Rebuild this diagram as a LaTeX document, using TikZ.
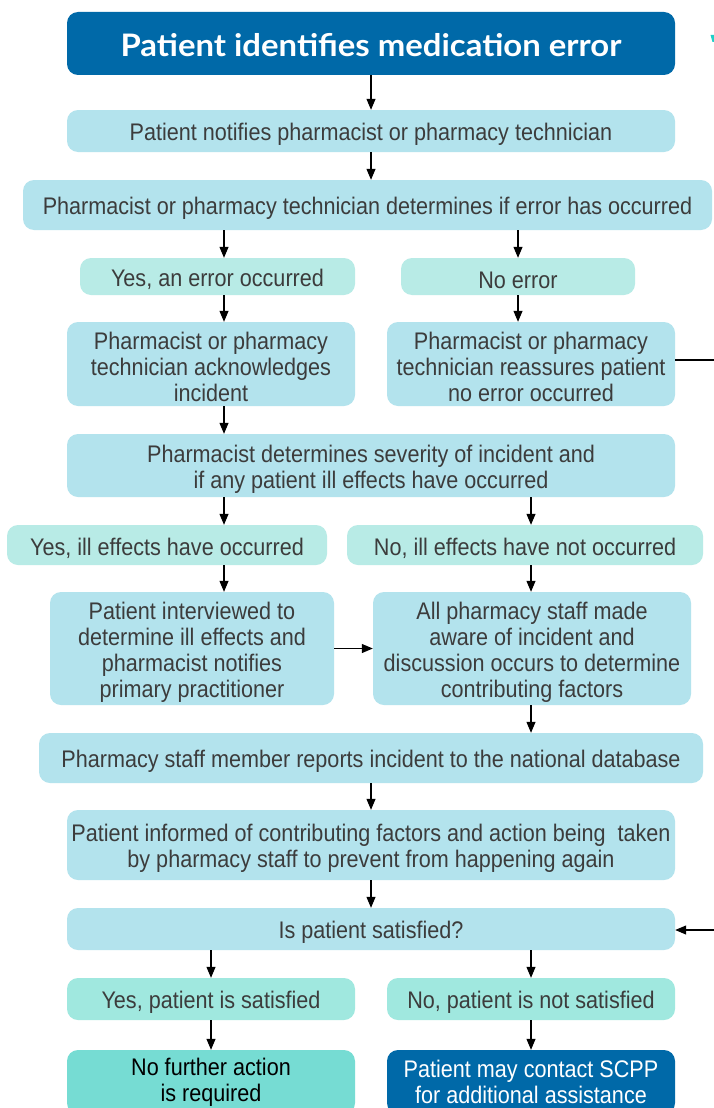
\documentclass[tikz,border=0pt]{standalone}
\usepackage{fontspec}
\setmainfont{Liberation Sans}[FakeStretch=0.9]
\newfontfamily\titlefont{Lato}[FakeStretch=1.06]
\usetikzlibrary{arrows.meta}
\definecolor{lblue}{HTML}{B3E3ED}
\definecolor{mint}{HTML}{B8EBE6}
\definecolor{mintb}{HTML}{A0E8DF}
\definecolor{teal}{HTML}{76DCD3}
\definecolor{dblue}{HTML}{0069A8}
\definecolor{txt}{HTML}{3C3C3C}
\definecolor{tealmark}{HTML}{1FCFC8}
\newcommand\firstline{\rule{0pt}{24pt}}
\tikzset{
  box/.style={rounded corners=11pt, fill=lblue, text=txt, align=center, inner sep=2pt,
    font=\fontsize{24}{26}\selectfont, execute at begin node={\rule{0pt}{24pt}}},
  mbox/.style={box, fill=mint},
  arr/.style={draw=black, line width=1.1pt, -{Triangle[length=11pt,width=9pt]}},
  ln/.style={draw=black, line width=1.1pt}
}
\begin{document}
\begin{tikzpicture}[x=1pt,y=-1pt]
\useasboundingbox (0,0) rectangle (714,1108);
\fill[white] (0,0) rectangle (714,1108);
\fill[tealmark] (710.5,35) -- (714,35) -- (714,42) -- (712.5,42) -- cycle;
\coordinate (cM) at (371,0);
\coordinate (cA) at (224,0);
\coordinate (cB) at (518,0);
\coordinate (cC) at (531,0);
\coordinate (cD) at (211,0);
\coordinate (exitA) at (714,360);
\coordinate (backA) at (714,930);

\node[box, fill=dblue, text=white, font=\titlefont\bfseries\fontsize{31}{34}\selectfont,
  execute at begin node={\rule{0pt}{27pt}},
  minimum width=608pt, minimum height=63pt] (title) at (371,43.5) {Patient identifies medication error};
\node[box, minimum width=608pt, minimum height=42pt] (b2) at (371,131) {Patient notifies pharmacist or pharmacy technician};
\node[box, minimum width=689pt, minimum height=50pt] (b3) at (367.5,205) {Pharmacist or pharmacy technician determines if error has occurred};
\node[mbox, minimum width=275pt, minimum height=37pt] (yes1) at (217.5,276.5) {Yes, an error occurred};
\node[mbox, minimum width=234pt, minimum height=37pt, execute at begin node={\rule{0pt}{18pt}}] (no1) at (518,276.5) {No error};
\node[box, minimum width=288pt, minimum height=84pt] (ack) at (211,364) {\firstline Pharmacist or pharmacy\\technician acknowledges\\incident};
\node[box, minimum width=288pt, minimum height=84pt] (reass) at (531,364) {\firstline Pharmacist or pharmacy\\technician reassures patient\\no error occurred};
\node[box, minimum width=608pt, minimum height=63pt] (sev) at (371,465.5) {\firstline Pharmacist determines severity of incident and\\if any patient ill effects have occurred};
\node[mbox, minimum width=320pt, minimum height=40pt] (yes2) at (167,545) {Yes, ill effects have occurred};
\node[mbox, minimum width=356pt, minimum height=40pt] (no2) at (525,545) {No, ill effects have not occurred};
\node[box, minimum width=284pt, minimum height=113pt] (intv) at (192,648.5) {\firstline Patient interviewed to\\determine ill effects and\\pharmacist notifies\\primary practitioner};
\node[box, minimum width=318pt, minimum height=113pt] (aware) at (532,648.5) {\firstline All pharmacy staff made\\aware of incident and\\discussion occurs to determine\\contributing factors};
\node[box, minimum width=664pt, minimum height=50pt] (rep) at (371,758) {Pharmacy staff member reports incident to the national database};
\node[box, minimum width=608pt, minimum height=70pt] (inf) at (371,845) {\firstline Patient informed of contributing factors and action being\ \ taken\\by pharmacy staff to prevent from happening again};
\node[box, minimum width=608pt, minimum height=42pt] (sat) at (371,929) {Is patient satisfied?};
\node[box, fill=mintb, minimum width=288pt, minimum height=42pt] (yes3) at (211,999) {Yes, patient is satisfied};
\node[box, fill=mintb, minimum width=288pt, minimum height=42pt] (no3) at (531,999) {No, patient is not satisfied};
\node[box, fill=teal, text=black, minimum width=288pt, minimum height=64pt] (nofur) at (211,1082) {No further action\\is required};
\node[box, fill=dblue, text=white, minimum width=288pt, minimum height=64pt] (scpp) at (531,1082) {Patient may contact SCPP\\for additional assistance};

\draw[arr] (title.south -| cM) -- (b2.north -| cM);
\draw[arr] (b2.south -| cM) -- (b3.north -| cM);
\draw[arr] (b3.south -| cA) -- (yes1.north -| cA);
\draw[arr] (b3.south -| cB) -- (no1.north -| cB);
\draw[arr] (yes1.south -| cA) -- (ack.north -| cA);
\draw[arr] (no1.south -| cB) -- (reass.north -| cB);
\draw[arr] (ack.south -| cA) -- (sev.north -| cA);
\draw[arr] (sev.south -| cA) -- (yes2.north -| cA);
\draw[arr] (sev.south -| cC) -- (no2.north -| cC);
\draw[arr] (yes2.south -| cA) -- (intv.north -| cA);
\draw[arr] (no2.south -| cC) -- (aware.north -| cC);
\draw[arr] (intv.east) -- (aware.west);
\draw[arr] (aware.south -| cC) -- (rep.north -| cC);
\draw[arr] (rep.south -| cM) -- (inf.north -| cM);
\draw[arr] (inf.south -| cM) -- (sat.north -| cM);
\draw[arr] (sat.south -| cD) -- (yes3.north -| cD);
\draw[arr] (sat.south -| cC) -- (no3.north -| cC);
\draw[arr] (yes3.south -| cD) -- (nofur.north -| cD);
\draw[arr] (no3.south -| cC) -- (scpp.north -| cC);
\draw[ln] (reass.east |- exitA) -- (exitA);
\draw[arr] (backA) -- (sat.east |- backA);
\end{tikzpicture}
\end{document}
